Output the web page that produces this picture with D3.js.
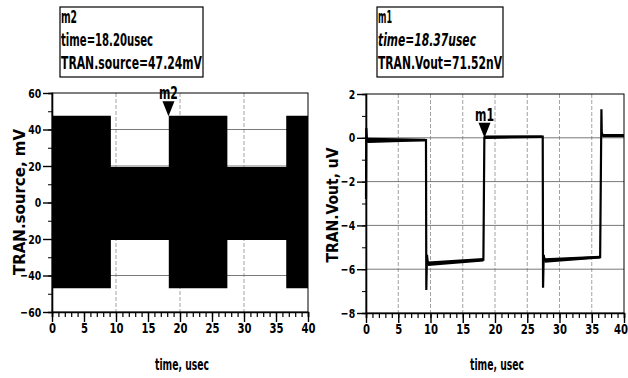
<!DOCTYPE html>
<html>
<head>
<meta charset="utf-8">
<script src="https://cdn.jsdelivr.net/npm/d3@7"></script>
<style>
  body { margin: 0; background: #fff; }
  svg text { font-family: "DejaVu Sans", sans-serif; font-weight: bold; fill: #000; }
</style>
</head>
<body>
<svg width="628" height="378"></svg>
<script>
// time axis (usec)
var timeTicks = [0, 5, 10, 15, 20, 25, 30, 35, 40];

// left: TRAN.source, mV  (carrier envelope, one level per segment)
var srcEdges = [0, 9.2, 18.25, 27.4, 36.6, 40];
var srcHigh = [47.5, 19.5, 47.5, 19.5, 47.5];
var srcLow = [-47, -20.5, -47, -20.5, -47];
var srcTicks = [60, 40, 20, 0, -20, -40, -60];

// right: TRAN.Vout, uV
var voutT = [0, 0.05, 0.15, 0.4, 9.2, 9.3, 9.35, 9.45, 9.6, 18.2, 18.35, 18.45, 27.3, 27.4, 27.45, 27.55, 27.7, 36.3, 36.5, 36.55, 36.7, 40];
var voutV = [-2.8, 0.45, -0.1, -0.12, -0.1, -0.1, -6.95, -5.35, -5.75, -5.57, 0.02, 0.03, 0.05, 0.05, -6.85, -5.35, -5.6, -5.45, 1.3, 0.25, 0.1, 0.1];
var voutBand = [0, 0, 0.12, 0.12, 0.06, 0, 0, 0, 0.1, 0.08, 0, 0.08, 0.06, 0, 0, 0, 0.1, 0.06, 0, 0, 0.07, 0.07];
var voutTicks = [2, 0, -2, -4, -6, -8];

// marker readouts (text widths)
var mk2 = { name: "m2", t: 18.2, v: 47.24, lines: ["m2", "time=18.20usec", "TRAN.source=47.24mV"], widths: [16, 92, 141] };
var mk1 = { name: "m1", t: 18.37, v: 0.0000715, lines: ["m1", "time=18.37usec", "TRAN.Vout=71.52nV"], widths: [14, 98, 124] };

var svg = d3.select("svg");
var narrow = "scale(0.72,1)";

function panel(o) {
  var x = d3.scaleLinear().domain([0, 40]).range([o.left, o.right]);
  var y = d3.scaleLinear().domain(o.ydom).range([o.bottom, o.top]);
  var g = svg.append("g");

  // grid
  g.selectAll(".vg").data(o.vgrid).enter().append("line")
    .attr("x1", function(d) { return x(d); }).attr("x2", function(d) { return x(d); })
    .attr("y1", o.top).attr("y2", o.bottom)
    .attr("stroke", "#8a8a8a").attr("stroke-width", 0.8).attr("stroke-dasharray", "4,2");
  g.selectAll(".hg").data(o.hgrid).enter().append("line")
    .attr("x1", o.left).attr("x2", o.right)
    .attr("y1", function(d) { return y(d); }).attr("y2", function(d) { return y(d); })
    .attr("stroke", "#6a6a6a").attr("stroke-width", 0.9);

  o.draw(g, x, y);

  // frame
  g.append("rect").attr("x", o.left).attr("y", o.top)
    .attr("width", o.right - o.left).attr("height", o.bottom - o.top)
    .attr("fill", "none").attr("stroke", "#000").attr("stroke-width", 1);

  // x axis
  var xa = g.append("g").attr("transform", "translate(0," + o.bottom + ")");
  xa.call(d3.axisBottom(x).tickValues(d3.range(0, 41, 1)).tickSize(5).tickFormat(""))
  xa.select(".domain").attr("stroke-width", 1.6);
  xa.selectAll(".tick line").attr("stroke-width", 1.2);
  var xb = g.append("g").attr("transform", "translate(0," + o.bottom + ")");
  xb.call(d3.axisBottom(x).tickValues(timeTicks).tickSize(10).tickPadding(1));
  xb.select(".domain").remove();
  xb.selectAll(".tick line").attr("stroke-width", 1.4);
  xb.selectAll("text").style("font-size", "14px").attr("transform", narrow)
    .attr("dx", function(d) { return d == 40 ? o.lastDx : 0; });

  // y axis
  var ya = g.append("g").attr("transform", "translate(" + o.left + ",0)");
  ya.call(d3.axisLeft(y).tickValues(o.yminor).tickSize(4).tickFormat(""));
  ya.select(".domain").attr("stroke-width", 1.6);
  var yb = g.append("g").attr("transform", "translate(" + o.left + ",0)");
  yb.call(d3.axisLeft(y).tickValues(o.yticks).tickSize(9).tickPadding(2));
  yb.select(".domain").remove();
  yb.selectAll(".tick line").attr("stroke-width", 1.4);
  yb.selectAll("text").style("font-size", "13px").attr("x", -15).attr("transform", narrow);

  g.append("text").attr("x", (o.left + o.right) / 2 + 2).attr("y", 370)
    .attr("text-anchor", "middle").style("font-size", "16px")
    .attr("textLength", 54).attr("lengthAdjust", "spacingAndGlyphs").text("time, usec");
  g.append("text").attr("transform", "translate(" + o.ylab[0] + "," + o.ylab[1] + ") rotate(-90)")
    .attr("text-anchor", "middle").style("font-size", "15px")
    .attr("textLength", o.ylab[2]).attr("lengthAdjust", "spacingAndGlyphs").text(o.ylabel);

  // marker triangle + label
  var mx = x(o.mk.t), my = y(o.mk.v);
  g.append("path").attr("d", "M" + (mx - 6) + "," + (my - 15) + "L" + (mx + 6) + "," + (my - 15) + "L" + mx + "," + my + "Z")
    .attr("fill", "#000");
  g.append("text").attr("x", mx).attr("y", my - 17).attr("text-anchor", "middle")
    .style("font-size", "17px").attr("textLength", 19).attr("lengthAdjust", "spacingAndGlyphs")
    .text(o.mk.name);

  // readout box
  var b = g.append("g");
  b.append("rect").attr("x", o.box[0]).attr("y", 7).attr("width", o.box[1]).attr("height", 70)
    .attr("fill", "#fff").attr("stroke", "#000").attr("stroke-width", 1.2);
  b.selectAll("text").data(o.mk.lines).enter().append("text")
    .attr("x", o.box[0] + 1).attr("y", function(d, i) { return 23 + i * 23; })
    .attr("textLength", function(d, i) { return o.mk.widths[i]; })
    .attr("lengthAdjust", "spacingAndGlyphs")
    .style("font-size", "17px")
    .style("font-style", function(d, i) { return o.italic && i == 1 ? "italic" : "normal"; })
    .text(function(d) { return d; });
}

panel({
  left: 52, right: 308, top: 93, bottom: 312,
  ydom: [-60, 60], yticks: srcTicks, yminor: d3.range(-60, 61, 10),
  vgrid: [10, 20, 30], hgrid: [40, 20, -20, -40],
  ylabel: "TRAN.source, mV", ylab: [25, 202, 146], mk: mk2, box: [60, 143], italic: false, lastDx: 0,
  draw: function(g, x, y) {
    var idx = d3.range(srcHigh.length);
    var area = d3.area().curve(d3.curveStepAfter)
      .x(function(i) { return x(srcEdges[i]); })
      .y0(function(i) { return y(srcLow[Math.min(i, srcLow.length - 1)]); })
      .y1(function(i) { return y(srcHigh[Math.min(i, srcHigh.length - 1)]); });
    g.append("path").datum(idx.concat([srcHigh.length])).attr("d", area).attr("fill", "#000");
  }
});

panel({
  left: 366, right: 624, top: 94, bottom: 313,
  ydom: [-8, 2], yticks: voutTicks, yminor: d3.range(-8, 3, 1),
  vgrid: [5, 10, 15, 20, 25, 30, 35], hgrid: [0, -2, -4, -6],
  ylabel: "TRAN.Vout, uV", ylab: [338, 205, 115], mk: mk1, box: [377, 126], italic: true, lastDx: -5,
  draw: function(g, x, y) {
    var idx = d3.range(voutT.length);
    var band = d3.area()
      .x(function(i) { return x(voutT[i]); })
      .y0(function(i) { return y(voutV[i] - voutBand[i]); })
      .y1(function(i) { return y(voutV[i] + voutBand[i]); });
    g.append("path").datum(idx).attr("d", band).attr("fill", "#000");
    var line = d3.line()
      .x(function(i) { return x(voutT[i]); })
      .y(function(i) { return y(voutV[i]); });
    g.append("path").datum(idx).attr("d", line).attr("fill", "none")
      .attr("stroke", "#000").attr("stroke-width", 2.2);
  }
});
</script>
</body>
</html>
